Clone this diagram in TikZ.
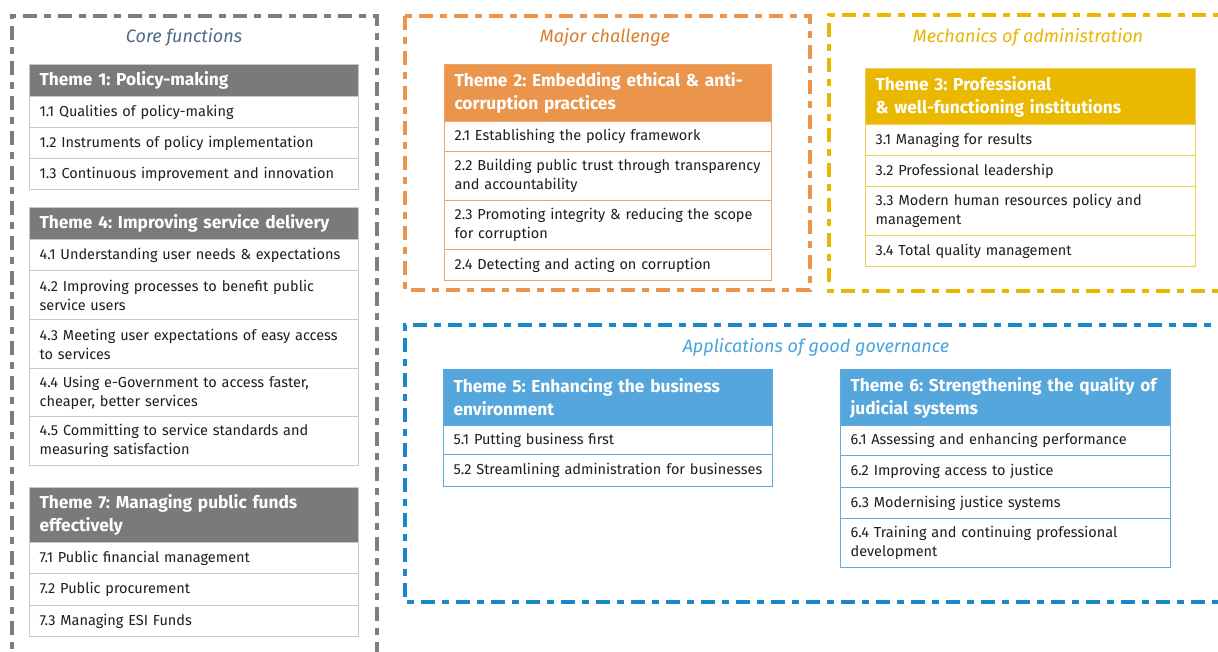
\documentclass[tikz,border=0pt]{standalone}
\usepackage{fontspec}
\setmainfont{Fira Sans}
\frenchspacing
\definecolor{grayhd}{RGB}{122,122,121}
\definecolor{grayln}{RGB}{200,200,200}
\definecolor{graygrp}{RGB}{125,125,125}
\definecolor{coretitle}{RGB}{76,107,138}
\definecolor{orhd}{RGB}{234,148,76}
\definecolor{orln}{RGB}{240,163,100}
\definecolor{ortitle}{RGB}{214,128,46}
\definecolor{yehd}{RGB}{235,184,0}
\definecolor{yeln}{RGB}{240,205,90}
\definecolor{yetitle}{RGB}{232,181,0}
\definecolor{blhd}{RGB}{85,166,220}
\definecolor{blln}{RGB}{95,170,222}
\definecolor{blgrp}{RGB}{24,136,201}
\definecolor{bltitle}{RGB}{74,163,220}
\definecolor{rowtext}{RGB}{30,30,30}
\tikzset{
  grpframe/.style={line width=3.2bp, dash pattern=on 14bp off 7bp on 7bp off 7bp},
  grptitle/.style={font=\fontsize{18bp}{20bp}\selectfont\itshape, inner sep=0pt},
  hdrbox/.style={anchor=north west, text=white, inner xsep=10bp, inner ysep=0pt,
    align=left, font=\fontsize{17.3bp}{23bp}\selectfont\bfseries, line width=1bp},
  rowbox/.style={anchor=north west, fill=white, text=rowtext, inner xsep=10bp, inner ysep=0pt,
    align=left, font=\fontsize{14.5bp}{19bp}\selectfont, line width=1.2bp},
  grayhdr/.style={hdrbox, fill=grayhd, draw=grayln},
  grayrow/.style={rowbox, draw=grayln},
  orhdr/.style={hdrbox, fill=orhd, draw=orln},
  orrow/.style={rowbox, draw=orln},
  yehdr/.style={hdrbox, fill=yehd, draw=yeln},
  yerow/.style={rowbox, draw=yeln},
  blhdr/.style={hdrbox, fill=blhd, draw=blln},
  blrow/.style={rowbox, draw=blln},
}
\begin{document}
\begin{tikzpicture}[x=1bp,y=-1bp]
\useasboundingbox (0,0) rectangle (1218,652);
\clip (0,0) rectangle (1218,652);
\fill[white] (0,0) rectangle (1218,652);

% group frames
\draw[grpframe, draw=graygrp] (12,670) -- (12,16) -- (377,16) -- (377,670);
\draw[grpframe, draw=orhd] (405,16) rectangle (810,290);
\draw[grpframe, draw=yehd] (1240,291) -- (829,291) -- (829,15) -- (1240,15);
\draw[grpframe, draw=blgrp] (1240,602) -- (405,602) -- (405,325) -- (1240,325);

% group titles
\node[grptitle, text=coretitle] (gcore) at (184,37) {Core functions};
\node[grptitle, text=ortitle] (gmajor) at (605,37) {Major challenge};
\node[grptitle, text=yetitle] (gmech) at (1028,37) {Mechanics of administration};
\node[grptitle, text=bltitle] (gapp) at (816,347) {Applications of good governance};

% Theme 1
\node[grayhdr, text width=309bp, minimum height=32bp] (t1) at (29,64) {Theme 1: Policy-making};
\node[grayrow, text width=309bp, minimum height=31bp] (t1a) at (29,96) {1.1 Qualities of policy-making};
\node[grayrow, text width=309bp, minimum height=31bp] (t1b) at (29,127) {1.2 Instruments of policy implementation};
\node[grayrow, text width=309bp, minimum height=31bp] (t1c) at (29,158) {1.3 Continuous improvement and innovation};

% Theme 4
\node[grayhdr, text width=309bp, minimum height=32bp] (t4) at (29,207) {Theme 4: Improving service delivery};
\node[grayrow, text width=309bp, minimum height=31bp] (t4a) at (29,239) {4.1 Understanding user needs \& expectations};
\node[grayrow, text width=309bp, minimum height=49bp] (t4b) at (29,270) {4.2 Improving processes to benefit public\\service users};
\node[grayrow, text width=309bp, minimum height=49bp] (t4c) at (29,319) {4.3 Meeting user expectations of easy access\\to services};
\node[grayrow, text width=309bp, minimum height=48bp] (t4d) at (29,368) {4.4 Using e-Government to access faster,\\cheaper, better services};
\node[grayrow, text width=309bp, minimum height=49bp] (t4e) at (29,416) {4.5 Committing to service standards and\\measuring satisfaction};

% Theme 7
\node[grayhdr, text width=309bp, minimum height=55bp] (t7) at (29,487) {Theme 7: Managing public funds\\effectively};
\node[grayrow, text width=309bp, minimum height=31bp] (t7a) at (29,542) {7.1 Public financial management};
\node[grayrow, text width=309bp, minimum height=32bp] (t7b) at (29,573) {7.2 Public procurement};
\node[grayrow, text width=309bp, minimum height=31bp] (t7c) at (29,605) {7.3 Managing ESI Funds};

% Theme 2
\node[orhdr, text width=307bp, minimum height=57bp] (t2) at (444,64) {Theme 2: Embedding ethical \& anti-\\corruption practices};
\node[orrow, text width=307bp, minimum height=30bp] (t2a) at (444,121) {2.1 Establishing the policy framework};
\node[orrow, text width=307bp, minimum height=49bp] (t2b) at (444,151) {2.2 Building public trust through transparency\\and accountability};
\node[orrow, text width=307bp, minimum height=49bp] (t2c) at (444,200) {2.3 Promoting integrity \& reducing the scope\\for corruption};
\node[orrow, text width=307bp, minimum height=31bp] (t2d) at (444,249) {2.4 Detecting and acting on corruption};

% Theme 3
\node[yehdr, text width=310bp, minimum height=56bp] (t3) at (865,68) {Theme 3: Professional\\\& well-functioning institutions};
\node[yerow, text width=310bp, minimum height=31bp] (t3a) at (865,124) {3.1 Managing for results};
\node[yerow, text width=310bp, minimum height=31bp] (t3b) at (865,155) {3.2 Professional leadership};
\node[yerow, text width=310bp, minimum height=49bp] (t3c) at (865,186) {3.3 Modern human resources policy and\\management};
\node[yerow, text width=310bp, minimum height=31bp] (t3d) at (865,235) {3.4 Total quality management};

% Theme 5
\node[blhdr, text width=309bp, minimum height=56bp] (t5) at (443,369) {Theme 5: Enhancing the business\\environment};
\node[blrow, text width=309bp, minimum height=29bp] (t5a) at (443,425) {5.1 Putting business first};
\node[blrow, text width=309bp, minimum height=32bp] (t5b) at (443,454) {5.2 Streamlining administration for businesses};

% Theme 6
\node[blhdr, text width=310bp, minimum height=56bp] (t6) at (840,369) {Theme 6: Strengthening the quality of\\judicial systems};
\node[blrow, text width=310bp, minimum height=30bp] (t6a) at (840,425) {6.1 Assessing and enhancing performance};
\node[blrow, text width=310bp, minimum height=32bp] (t6b) at (840,455) {6.2 Improving access to justice};
\node[blrow, text width=310bp, minimum height=31bp] (t6c) at (840,487) {6.3 Modernising justice systems};
\node[blrow, text width=310bp, minimum height=49bp] (t6d) at (840,518) {6.4 Training and continuing professional\\development};
\end{tikzpicture}
\end{document}
